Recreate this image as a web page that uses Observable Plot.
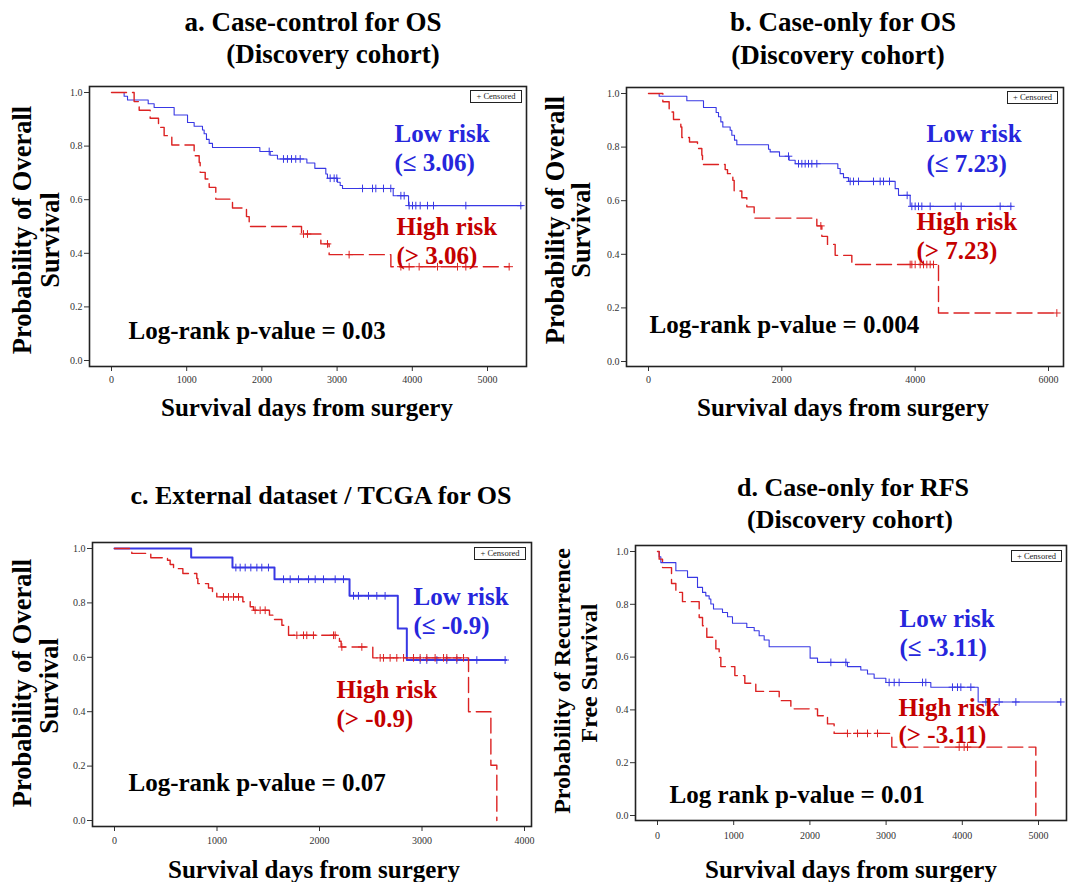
<!DOCTYPE html>
<html>
<head>
<meta charset="utf-8">
<script src="https://cdn.jsdelivr.net/npm/d3@7"></script>
<script src="https://cdn.jsdelivr.net/npm/@observablehq/plot@0.6"></script>
<style>
  body { margin: 0; background: #fff; }
  #root { position: relative; width: 1072px; height: 882px; overflow: hidden; background: #fff;
          font-family: "Liberation Serif", "Times New Roman", serif; }
  .t { position: absolute; font-weight: bold; font-size: 24px; line-height: 1; white-space: nowrap; color: #000;
       font-family: "Liberation Serif", "Times New Roman", serif; }
  .panel { position: absolute; }
  .panel svg text { font-family: "Liberation Serif", "Times New Roman", serif; }
  .legend { position: absolute; box-sizing: border-box; border: 1.5px solid #222; font-size: 8.5px; line-height: 10px;
            text-align: center; color: #222; background: #fff; white-space: nowrap; }
</style>
</head>
<body>
<div id="root"></div>
<script>
// ---------------- DATA ----------------
// Panel a: Case-control for OS (Discovery cohort)
const aLowTime   = [0, 168, 213, 488, 567, 833, 1011, 1099, 1210, 1232, 1263, 1299, 1343, 1973, 2110, 2207, 2598, 2704, 2850, 2872, 3005, 3041, 3072, 3746, 3950, 5465];
const aLowSurv   = [1, 0.986, 0.972, 0.958, 0.944, 0.916, 0.888, 0.874, 0.860, 0.846, 0.825, 0.810, 0.795, 0.780, 0.766, 0.752, 0.737, 0.717, 0.696, 0.680, 0.665, 0.653, 0.642, 0.615, 0.578, 0.578];
const aLowCens   = [2097, 2287, 2340, 2394, 2450, 2509, 2908, 2961, 2996, 3338, 3471, 3515, 3617, 3714, 3848, 3892, 3958, 4003, 4047, 4105, 4202, 4282, 4712, 5443];
const aHighTime  = [0, 301, 368, 514, 625, 700, 802, 1099, 1166, 1179, 1246, 1299, 1387, 1609, 1795, 1831, 2527, 2784, 2894, 3715, 5288];
const aHighSurv  = [1, 0.966, 0.934, 0.904, 0.870, 0.839, 0.804, 0.764, 0.739, 0.702, 0.677, 0.646, 0.602, 0.569, 0.537, 0.500, 0.472, 0.435, 0.395, 0.350, 0.350];
const aHighCens  = [2553, 2606, 2872, 3160, 3848, 3958, 4091, 4335, 4601, 4712, 5288];

// Panel b: Case-only for OS (Discovery cohort)
const bLowTime   = [0, 160, 575, 825, 1015, 1050, 1085, 1115, 1225, 1250, 1290, 1325, 1800, 1825, 1965, 2110, 2200, 2840, 2875, 2925, 3000, 3700, 3750, 3925, 5450];
const bLowSurv   = [1, 0.990, 0.973, 0.948, 0.929, 0.913, 0.894, 0.875, 0.863, 0.844, 0.826, 0.809, 0.792, 0.782, 0.766, 0.751, 0.738, 0.720, 0.701, 0.686, 0.672, 0.645, 0.620, 0.579, 0.579];
const bLowCens   = [2100, 2250, 2300, 2350, 2400, 2450, 2525, 3025, 3075, 3150, 3375, 3475, 3525, 3615, 3880, 3950, 4000, 4050, 4100, 4225, 4600, 4690, 5275, 5435];
const bHighTime  = [0, 215, 310, 375, 485, 500, 615, 735, 800, 810, 1150, 1185, 1265, 1285, 1400, 1475, 1585, 2525, 2600, 2685, 2800, 3050, 4350, 6125];
const bHighSurv  = [1, 0.969, 0.931, 0.903, 0.875, 0.836, 0.819, 0.795, 0.770, 0.735, 0.716, 0.701, 0.676, 0.636, 0.611, 0.577, 0.535, 0.506, 0.467, 0.437, 0.396, 0.362, 0.181, 0.181];
const bHighCens  = [2585, 3925, 3950, 4000, 4075, 4125, 4175, 4225, 4275, 6125];

// Panel c: External dataset / TCGA for OS
const cLowTime   = [0, 748, 1151, 1561, 2293, 2764, 2852, 3821];
const cLowSurv   = [1, 0.967, 0.930, 0.887, 0.826, 0.706, 0.590, 0.590];
const cLowCens   = [1184, 1226, 1275, 1330, 1389, 1437, 1502, 1649, 1714, 1795, 1893, 1958, 2039, 2153, 2234, 2332, 2380, 2478, 2559, 2640, 2982, 3047, 3145, 3242, 3340, 3535, 3811];
const cHighTime  = [0, 169, 354, 517, 543, 576, 667, 803, 813, 917, 956, 998, 1252, 1324, 1356, 1512, 1551, 1633, 1698, 2195, 2211, 2520, 3454, 3672, 3730];
const cHighSurv  = [1, 0.982, 0.966, 0.957, 0.941, 0.926, 0.908, 0.890, 0.871, 0.855, 0.841, 0.822, 0.804, 0.786, 0.773, 0.755, 0.739, 0.718, 0.681, 0.659, 0.638, 0.598, 0.400, 0.203, 0];
const cHighCens  = [1063, 1112, 1161, 1210, 1372, 1421, 1470, 1779, 1844, 1876, 1941, 2137, 2153, 2218, 2413, 2592, 2624, 2689, 2754, 2820, 2917, 2982, 3047, 3128, 3210, 3242, 3340, 3405];

// Panel d: Case-only for RFS (Discovery cohort)
const dLowTime   = [0, 22, 44, 241, 394, 525, 591, 634, 678, 700, 735, 853, 919, 984, 1172, 1269, 1334, 1400, 1465, 2003, 2100, 2493, 2668, 2756, 2843, 2997, 3587, 4208, 5293];
const dLowSurv   = [1, 0.980, 0.958, 0.927, 0.902, 0.864, 0.845, 0.832, 0.820, 0.801, 0.782, 0.769, 0.753, 0.728, 0.712, 0.700, 0.681, 0.665, 0.639, 0.596, 0.580, 0.564, 0.551, 0.536, 0.520, 0.504, 0.486, 0.430, 0.430];
const dLowCens   = [2275, 2472, 3040, 3106, 3171, 3478, 3521, 3871, 3937, 3981, 4112, 4309, 4484, 4703, 5293];
const dHighTime  = [0, 22, 66, 184, 241, 328, 547, 591, 647, 766, 809, 831, 1015, 1146, 1290, 1597, 1750, 2100, 2231, 2318, 3075, 4965];
const dHighSurv  = [1, 0.971, 0.939, 0.879, 0.845, 0.810, 0.750, 0.719, 0.675, 0.631, 0.599, 0.564, 0.530, 0.501, 0.470, 0.435, 0.404, 0.378, 0.347, 0.311, 0.259, 0];
const dHighCens  = [2493, 2625, 2756, 2887, 3959, 4024, 4068];

// Tick values and labels
const yTicks   = [0, 0.2, 0.4, 0.6, 0.8, 1.0];
const aXTicks  = [0, 1000, 2000, 3000, 4000, 5000];
const bXTicks  = [0, 2000, 4000, 6000];
const cXTicks  = [0, 1000, 2000, 3000, 4000];
const dXTicks  = [0, 1000, 2000, 3000, 4000, 5000];

// Texts
const titles = {
  a: ["a. Case-control for OS", "(Discovery cohort)"],
  b: ["b. Case-only for OS", "(Discovery cohort)"],
  c: ["c. External dataset / TCGA for OS"],
  d: ["d. Case-only for RFS", "(Discovery cohort)"]
};
const xLabel = "Survival days from surgery";
const yLabelsOS  = ["Probability of Overall", "Survival"];
const yLabelsRFS = ["Probability of Recurrence", "Free Survival"];
const groupLabels = {
  a: ["Low risk", "(≤ 3.06)", "High risk", "(> 3.06)", "Log-rank p-value = 0.03"],
  b: ["Low risk", "(≤ 7.23)", "High risk", "(> 7.23)", "Log-rank p-value = 0.004"],
  c: ["Low risk", "(≤ -0.9)", "High risk", "(> -0.9)", "Log-rank p-value = 0.07"],
  d: ["Low risk", "(≤ -3.11)", "High risk", "(> -3.11)", "Log rank p-value = 0.01"]
};
const legendText = "+ Censored";

// ---------------- helpers ----------------
const RED = "#dc2222", BLUE = "#3838e4", REDTXT = "#c40000", BLUETXT = "#2626dc";
const FONT = "'Liberation Serif', 'Times New Roman', serif";
const root = document.getElementById("root");

function curve(times, surv) { return times.map((t, i) => ({t, s: surv[i]})); }
function censored(times, surv, cens) {
  return cens.map(t => ({t, s: surv[Math.max(0, d3.bisectRight(times, t) - 1)]}));
}
function addText(txt, cx, baseline, size = 25, color = "#000") {
  const el = document.createElement("div");
  el.className = "t";
  el.textContent = txt;
  el.style.fontSize = size + "px";
  el.style.color = color;
  el.style.left = cx + "px";
  el.style.top = (baseline - 0.8375 * size) + "px";
  el.style.transform = "translateX(-50%)";
  root.appendChild(el);
}
function addVText(txt, cx, cy, size) {
  const el = document.createElement("div");
  el.className = "t";
  el.textContent = txt;
  el.style.fontSize = size + "px";
  el.style.left = cx + "px";
  el.style.top = cy + "px";
  el.style.transform = "translate(-50%,-50%) rotate(-90deg)";
  root.appendChild(el);
}
function addLegend(left, top, w, h) {
  const el = document.createElement("div");
  el.className = "legend";
  el.textContent = legendText;
  Object.assign(el.style, {left: left + "px", top: top + "px", width: w + "px", height: h + "px"});
  root.appendChild(el);
}

function panel(cfg) {
  const low = curve(cfg.lowT, cfg.lowS), high = curve(cfg.highT, cfg.highS);
  const lowC = censored(cfg.lowT, cfg.lowS, cfg.lowC), highC = censored(cfg.highT, cfg.highS, cfg.highC);
  const g = cfg.labels;
  const ann = (txt, dx, dy, fill) => Plot.text([txt], {
    frameAnchor: "top-left", text: d => d, dx, dy, textAnchor: "start", lineAnchor: "bottom",
    fontSize: 25, fontWeight: "bold", fontFamily: FONT, fill
  });
  const svg = Plot.plot({
    width: cfg.w, height: cfg.h,
    marginLeft: cfg.m[0], marginRight: cfg.m[1], marginTop: cfg.m[2], marginBottom: cfg.m[3],
    style: {fontFamily: FONT, fontSize: "10px", color: "#333", background: "transparent", overflow: "visible"},
    x: {domain: cfg.xDomain, ticks: cfg.xTicks, tickFormat: d => String(d), insetLeft: cfg.ins[0], insetRight: cfg.ins[1],
        tickSize: 5, tickPadding: cfg.xPad, label: null},
    y: {domain: [0, 1], ticks: yTicks, tickFormat: d3.format(".1f"), insetTop: cfg.ins[2], insetBottom: cfg.ins[3],
        tickSize: 5, tickPadding: 2, label: null},
    marks: [
      Plot.line(low, {x: "t", y: "s", curve: "step-after", stroke: BLUE, strokeWidth: cfg.lowW}),
      Plot.line(high, {x: "t", y: "s", curve: "step-after", stroke: RED, strokeWidth: 1.4, strokeDasharray: "15,6"}),
      Plot.dot(lowC, {x: "t", y: "s", symbol: "plus", r: 2.6, stroke: BLUE, strokeWidth: 1}),
      Plot.dot(highC, {x: "t", y: "s", symbol: "plus", r: 2.6, stroke: RED, strokeWidth: 1}),
      ann(g[0], cfg.a[0], cfg.a[1], BLUETXT),
      ann(g[1], cfg.a[0], cfg.a[2], BLUETXT),
      ann(g[2], cfg.a[3], cfg.a[4], REDTXT),
      ann(g[3], cfg.a[3], cfg.a[5], REDTXT),
      ann(g[4], cfg.a[6], cfg.a[7], "#000"),
      Plot.frame({stroke: "#222", strokeWidth: 1.6})
    ]
  });
  const div = document.createElement("div");
  div.className = "panel";
  div.style.left = cfg.left + "px";
  div.style.top = cfg.top + "px";
  div.appendChild(svg);
  root.appendChild(div);
}

// ---------------- panels ----------------
panel({left: 60, top: 80, w: 480, h: 320, m: [29, 14, 6, 34], xDomain: [0, 5000], xTicks: aXTicks, ins: [22, 39, 6, 6], xPad: 4,
  lowT: aLowTime, lowS: aLowSurv, lowC: aLowCens, highT: aHighTime, highS: aHighSurv, highC: aHighCens, lowW: 1.1,
  labels: groupLabels.a, a: [305, 55, 84, 307, 148, 177, 39, 252]});
panel({left: 590, top: 80, w: 480, h: 320, m: [36, 7, 7, 34], xDomain: [0, 6000], xTicks: bXTicks, ins: [22, 15, 6, 5], xPad: 4,
  lowT: bLowTime, lowS: bLowSurv, lowC: bLowCens, highT: bHighTime, highS: bHighSurv, highC: bHighCens, lowW: 1.1,
  labels: groupLabels.b, a: [300, 54, 84, 290, 142, 171, 23, 245]});
panel({left: 60, top: 535, w: 480, h: 320, m: [32, 9, 7, 29], xDomain: [0, 4000], xTicks: cXTicks, ins: [22, 7, 6, 6], xPad: 5,
  lowT: cLowTime, lowS: cLowSurv, lowC: cLowCens, highT: cHighTime, highS: cHighSurv, highC: cHighCens, lowW: 2,
  labels: groupLabels.c, a: [321, 62, 91, 244, 155, 184, 36, 248]});
panel({left: 590, top: 540, w: 480, h: 310, m: [45, 4, 5, 30], xDomain: [0, 5000], xTicks: dXTicks, ins: [22, 28, 6, 5], xPad: 6,
  lowT: dLowTime, lowS: dLowSurv, lowC: dLowCens, highT: dHighTime, highS: dHighSurv, highC: dHighCens, lowW: 1.1,
  labels: groupLabels.d, a: [264, 81, 110, 263, 170, 197, 34, 257]});

// ---------------- titles & axis labels ----------------
addText(titles.a[0], 313, 32, 27); addText(titles.a[1], 333, 64, 27);
addText(titles.b[0], 843, 32, 27); addText(titles.b[1], 838, 65, 27);
addText(titles.c[0], 321, 505, 26);
addText(titles.d[0], 853, 497, 26); addText(titles.d[1], 850, 529, 26);

addText(xLabel, 307, 416); addText(xLabel, 843, 416);
addText(xLabel, 314, 878); addText(xLabel, 851, 878);

addVText(yLabelsOS[0], 22, 230, 26.5); addVText(yLabelsOS[1], 50, 240, 26.5);
addVText(yLabelsOS[0], 555, 220, 26.5); addVText(yLabelsOS[1], 581, 230, 26.5);
addVText(yLabelsOS[0], 22, 683, 26.5); addVText(yLabelsOS[1], 49, 686, 26.5);
addVText(yLabelsRFS[0], 562, 681, 24); addVText(yLabelsRFS[1], 589, 673, 24);

addLegend(470, 90, 52, 13);
addLegend(1007, 91, 51, 13);
addLegend(474, 547, 52, 13);
addLegend(1011, 550, 51, 12);
</script>
</body>
</html>
